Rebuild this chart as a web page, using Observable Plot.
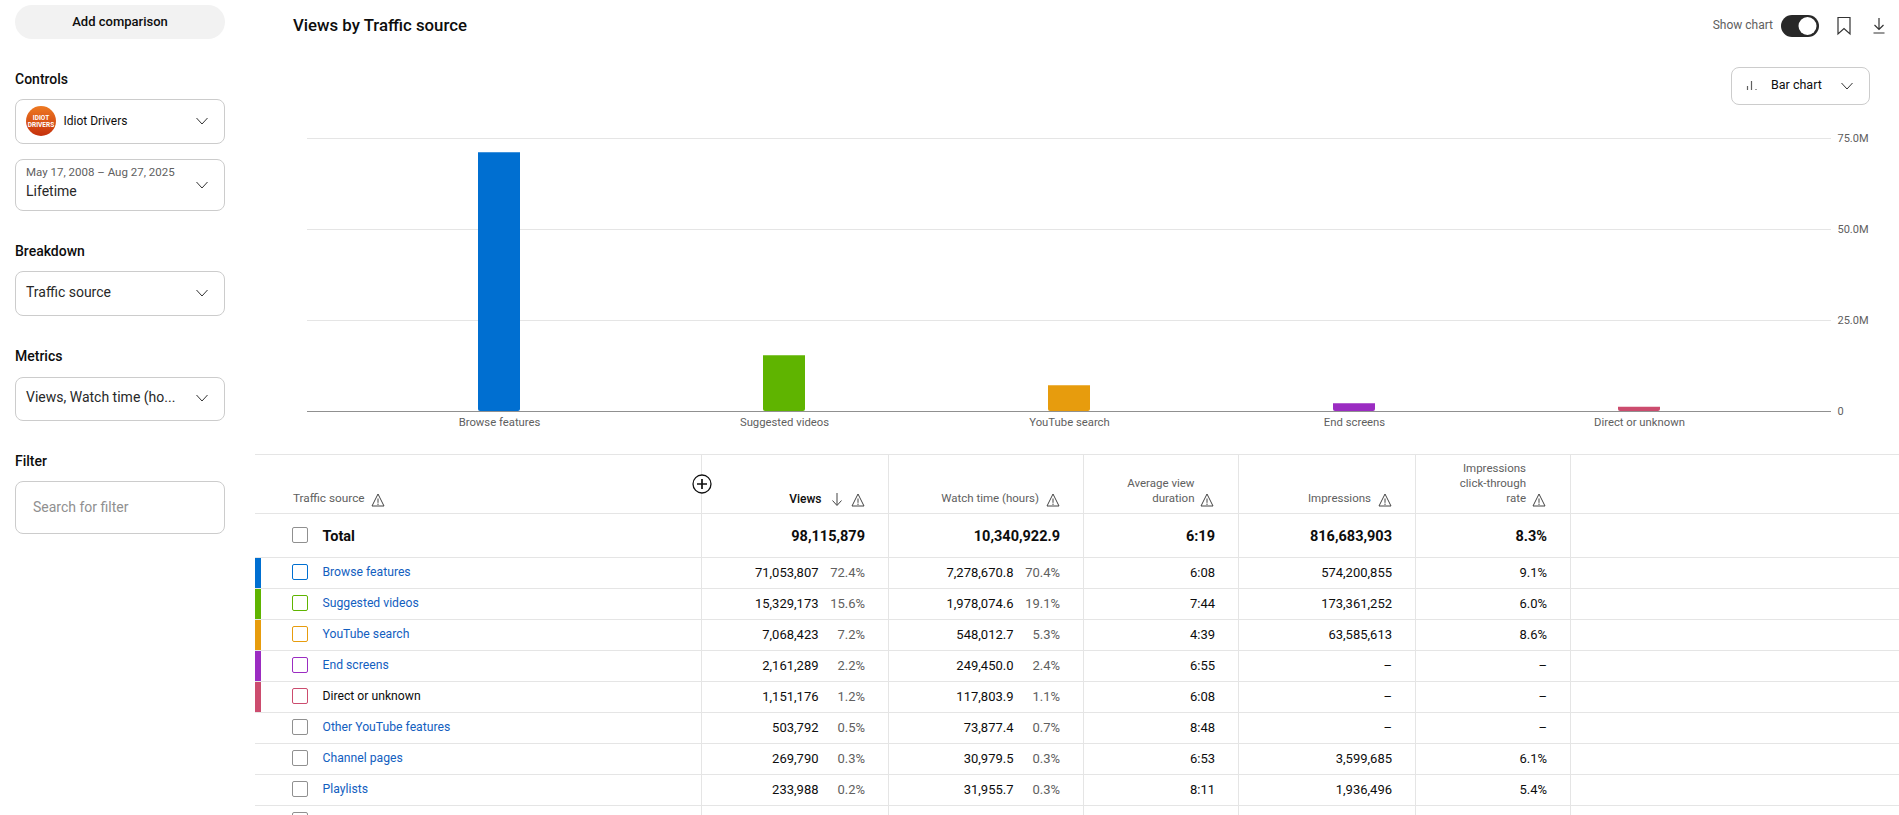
<!DOCTYPE html>
<html><head><meta charset="utf-8">
<script src="https://cdn.jsdelivr.net/npm/d3@7"></script>
<script src="https://cdn.jsdelivr.net/npm/@observablehq/plot@0.6"></script>
<style>
html,body{margin:0;padding:0;background:#fff;width:1899px;height:815px;overflow:hidden;font-family:Roboto,sans-serif;color:#0d0d0d}
#page{position:relative;width:1899px;height:815px;overflow:hidden}
.a{position:absolute;white-space:nowrap}
.box{position:absolute;border:1px solid #ccc;border-radius:8px;box-sizing:border-box;background:#fff}
.ln{position:absolute;background:#e5e5e5}
#chart{position:absolute;left:0;top:100px}
#chart svg{display:block;background:transparent}
</style></head><body><div id="page"><div id="chart"></div></div>
<script>
const sources = ["Browse features","Suggested videos","YouTube search","End screens","Direct or unknown","Other YouTube features","Channel pages","Playlists"];
const views = [71053807,15329173,7068423,2161289,1151176,503792,269790,233988];
const viewsPct = ["72.4%","15.6%","7.2%","2.2%","1.2%","0.5%","0.3%","0.2%"];
const watchTime = ["7,278,670.8","1,978,074.6","548,012.7","249,450.0","117,803.9","73,877.4","30,979.5","31,955.7"];
const watchPct = ["70.4%","19.1%","5.3%","2.4%","1.1%","0.7%","0.3%","0.3%"];
const avgDuration = ["6:08","7:44","4:39","6:55","6:08","8:48","6:53","8:11"];
const impressions = ["574,200,855","173,361,252","63,585,613","–","–","–","3,599,685","1,936,496"];
const ctr = ["9.1%","6.0%","8.6%","–","–","–","6.1%","5.4%"];
const barColors = ["#006fd1","#5fb400","#e79c0d","#9b2cc2","#cc4c6e"];
const yTicks = [0,25e6,50e6,75e6];
const yTickLabels = ["0","25.0M","50.0M","75.0M"];
const totals = {views:"98,115,879",watch:"10,340,922.9",avg:"6:19",imp:"816,683,903",ctr:"8.3%"};

const page = document.getElementById("page");
function t(x,y,s,o={}){const d=document.createElement("div");d.className="a";d.textContent=s;
  d.style.top=y+"px";d.style.fontSize=(o.size||13)+"px";d.style.fontWeight=o.w||400;d.style.color=o.c||"#0d0d0d";d.style.lineHeight="1";
  if(o.right){d.style.right=(1899-x)+"px";d.style.transform="translateY(-50%)"}
  else if(o.center){d.style.left=x+"px";d.style.transform="translate(-50%,-50%)"}
  else{d.style.left=x+"px";d.style.transform="translateY(-50%)"}
  page.appendChild(d);return d}
function box(x,y,w,h,r){const d=document.createElement("div");d.className="box";d.style.cssText=`left:${x}px;top:${y}px;width:${w}px;height:${h}px;`+(r?`border-radius:${r}px`:"");page.appendChild(d);return d}
function hl(x1,x2,y,c){const d=document.createElement("div");d.className="ln";d.style.cssText=`left:${x1}px;top:${y}px;width:${x2-x1}px;height:1px;`+(c?`background:${c}`:"");page.appendChild(d)}
function vl(x,y1,y2){const d=document.createElement("div");d.className="ln";d.style.cssText=`left:${x}px;top:${y1}px;width:1px;height:${y2-y1}px`;page.appendChild(d)}
function svg(x,y,w,h,inner){const d=document.createElement("div");d.className="a";d.style.cssText=`left:${x}px;top:${y}px;width:${w}px;height:${h}px`;
  d.innerHTML=`<svg width="${w}" height="${h}" viewBox="0 0 ${w} ${h}" style="display:block">${inner}</svg>`;page.appendChild(d)}
const chevron=(cx,cy)=>svg(cx-7,cy-5,14,10,`<path d="M1.5 2 L7 8 L12.5 2" fill="none" stroke="#333" stroke-width="1"/>`);
const warn=(cx,cy)=>svg(cx-7,cy-7,14,14,`<path d="M7 1 L13 13 L1 13 Z" fill="none" stroke="#444" stroke-width="1"/><path d="M7 5.5 V9.8 M7 10.6 V12" stroke="#444" stroke-width="1"/>`);

// sidebar
const pill=document.createElement("div");pill.className="a";pill.style.cssText="left:15px;top:5px;width:210px;height:34px;border-radius:17px;background:#f2f2f2";page.appendChild(pill);
t(120,21,"Add comparison",{size:13,w:500,center:true});
t(15,79,"Controls",{size:14,w:500});
box(15,99,210,45);
svg(26,106,30,30,`<defs><linearGradient id="lg" x1="0" y1="0" x2="0" y2="1"><stop offset="0" stop-color="#ee7a22"/><stop offset="1" stop-color="#c5300c"/></linearGradient></defs><circle cx="15" cy="15" r="15" fill="url(#lg)"/><text x="15" y="13.5" text-anchor="middle" font-family="Roboto" font-weight="700" font-size="6.5" fill="#fff">IDIOT</text><text x="15" y="20.5" text-anchor="middle" font-family="Roboto" font-weight="700" font-size="6.5" fill="#fff">DRIVERS</text>`);
t(63.5,120.5,"Idiot Drivers",{size:12});chevron(202,121);
box(15,159,210,52);
t(26,173,"May 17, 2008 – Aug 27, 2025",{size:11.5,c:"#606060"});
t(26,191,"Lifetime",{size:14,c:"#282828"});chevron(202,185);
t(15,251,"Breakdown",{size:14,w:500});
box(15,271,210,45);t(26,292,"Traffic source",{size:14,c:"#282828"});chevron(202,293);
t(15,356,"Metrics",{size:14,w:500});
box(15,377,210,44);t(26,397,"Views, Watch time (ho...",{size:14,c:"#282828"});chevron(202,398);
t(15,461,"Filter",{size:14,w:500});
box(15,481,210,53);t(33,507,"Search for filter",{size:14,c:"#909090"});

// header
t(293,24.5,"Views by Traffic source",{size:16.8,w:500});
t(1773,25,"Show chart",{size:12,c:"#606060",right:true});
svg(1780,14,40,24,`<rect x="1" y="1" width="38" height="22" rx="11" fill="#282828"/><circle cx="27.5" cy="12" r="9" fill="#fff"/>`);
svg(1836,16,16,20,`<path d="M2 1.5 H14 V18 L8 12.5 L2 18 Z" fill="none" stroke="#333" stroke-width="1.2"/>`);
svg(1872,17,14,18,`<path d="M7 1 V12 M2.5 8 L7 12.5 L11.5 8 M1.5 16 H12.5" fill="none" stroke="#333" stroke-width="1.2"/>`);
box(1731,67,139,38);
svg(1745,78,14,14,`<path d="M2.5 12 V8 M6.5 12 V3 M11 12 V11" stroke="#606060" stroke-width="1.2" fill="none"/>`);
t(1771,85,"Bar chart",{size:12.5});chevron(1847,86);

// chart
const chartData = sources.slice(0,5).map((s,i)=>({source:s,views:views[i],color:barColors[i]}));
const plot = Plot.plot({
  width:1899,height:340,marginLeft:307,marginRight:68,marginTop:38,marginBottom:29,
  style:{fontFamily:"Roboto",fontSize:"11px",color:"#606060",background:"transparent"},
  x:{domain:sources.slice(0,5),paddingInner:0.854,paddingOuter:0.5915,label:null},
  y:{domain:[0,75e6],label:null},
  marks:[
    Plot.gridY(yTicks,{stroke:"#e5e5e5",strokeOpacity:1}),
    Plot.barY(chartData,{x:"source",y:"views",fill:"color",ry2:2}),
    Plot.ruleY([0],{stroke:"#909090"}),
    Plot.axisX({tickSize:0,tickPadding:6,label:null,fontSize:11.3}),
    Plot.axisY({anchor:"right",ticks:yTicks,tickSize:0,tickPadding:6,label:null,tickFormat:v=>yTickLabels[yTicks.indexOf(v)]})
  ]
});
document.getElementById("chart").appendChild(plot);

// table
const colX=[701,888,1083,1238,1415,1570];
hl(255,1899,454);hl(255,1899,513);hl(255,1899,557);
colX.forEach(x=>vl(x,454,815));
sources.forEach((_,i)=>hl(255,1899,588+31*i));
const H="#606060", HS=11.5;
t(293,499,"Traffic source",{size:11.8,c:H});warn(377.5,499.5);
t(821.5,499,"Views",{size:12,w:500,right:true});
svg(831,492,12,15,`<path d="M6 1 V13 M1.5 8.5 L6 13.5 L10.5 8.5" fill="none" stroke="#444" stroke-width="1"/>`);
warn(857.5,499.5);
t(1039,499,"Watch time (hours)",{size:HS,c:H,right:true});warn(1052.5,499.5);
t(1194.5,484,"Average view",{size:HS,c:H,right:true});
t(1194.5,499,"duration",{size:HS,c:H,right:true});warn(1207,499.5);
t(1371,499,"Impressions",{size:HS,c:H,right:true});warn(1384.5,499.5);
t(1526,469,"Impressions",{size:HS,c:H,right:true});
t(1526,484,"click-through",{size:HS,c:H,right:true});
t(1526,499,"rate",{size:HS,c:H,right:true});warn(1539,499.5);
svg(692,474,20,20,`<circle cx="10" cy="10" r="9" fill="#fff" stroke="#111" stroke-width="1.3"/><path d="M10 5 V15 M5 10 H15" stroke="#111" stroke-width="1.7"/>`);
// total
const cb=(y,c)=>{const d=box(292,y,16,16,2);d.style.borderColor=c||"#909090";return d};
cb(527);t(322.5,536.5,"Total",{size:14.5,w:700});
const B={size:14.5,w:700,right:true};
t(865,536.5,totals.views,B);t(1060,536.5,totals.watch,B);t(1215,536.5,totals.avg,B);t(1392,536.5,totals.imp,B);t(1547,536.5,totals.ctr,B);
sources.forEach((s,i)=>{
  const y=571.5+31*i;
  if(i<5){const d=document.createElement("div");d.className="a";d.style.cssText=`left:255px;top:${557+31*i+1}px;width:6px;height:30px;background:${barColors[i]}`;page.appendChild(d)}
  cb(572-8+31*i,barColors[i]);
  t(322.5,y,s,{size:12.2,c:i===4?"#0d0d0d":"#1360c0"});
  t(818.5,y,d3.format(",")(views[i]),{size:13,right:true});
  t(865,y,viewsPct[i],{size:13,c:H,right:true});
  t(1013.5,y,watchTime[i],{size:13,right:true});
  t(1060,y,watchPct[i],{size:13,c:H,right:true});
  t(1215,y,avgDuration[i],{size:13,right:true});
  t(1392,y,impressions[i],{size:13,right:true});
  t(1547,y,ctr[i],{size:13,right:true});
});
cb(812);
</script></body></html>
